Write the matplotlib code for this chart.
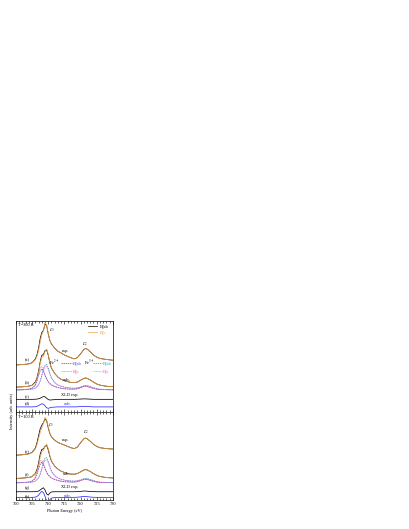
import numpy as np
import matplotlib
matplotlib.use("Agg")
import matplotlib.pyplot as plt

plt.rcParams['font.family'] = ['Liberation Serif', 'DejaVu Serif']
plt.rcParams['mathtext.fontset'] = 'stix'

# photon energy grid (eV)
energy = [700, 702, 704, 705, 706, 706.5, 707, 707.5, 708, 708.5, 709, 709.5, 710, 710.5,
          711, 712, 713, 714, 715, 716, 717, 718, 719, 720, 721, 721.5, 722, 723, 724,
          725, 726, 728, 730]

# ---- T = 300 K ----
a_c = [0, 0.04, 0.11, 0.22, 0.56, 0.94, 1.57, 2.51, 3.33, 3.71, 4.64, 4.38, 3.45, 2.70,
       2.32, 1.84, 1.50, 1.31, 1.09, 0.94, 0.79, 0.67, 0.79, 1.20, 1.69, 1.80, 1.76, 1.46,
       1.09, 0.86, 0.71, 0.60, 0.52]
a_ab = [0, 0.04, 0.12, 0.25, 0.65, 1.10, 1.85, 2.90, 3.55, 3.80, 4.50, 4.30, 3.40, 2.68,
        2.30, 1.83, 1.50, 1.31, 1.09, 0.94, 0.79, 0.67, 0.80, 1.22, 1.70, 1.80, 1.75, 1.45,
        1.08, 0.86, 0.71, 0.60, 0.52]
b_c = [0, 0.04, 0.10, 0.20, 0.50, 0.90, 1.60, 2.60, 3.30, 3.40, 3.90, 4.20, 3.60, 2.70,
       2.10, 1.50, 1.10, 0.85, 0.70, 0.60, 0.52, 0.50, 0.55, 0.75, 0.95, 1.00, 0.98, 0.80,
       0.55, 0.35, 0.22, 0.10, 0.05]
b_ab = [0, 0.04, 0.11, 0.22, 0.58, 1.00, 1.75, 2.80, 3.50, 3.60, 4.00, 4.10, 3.50, 2.65,
        2.08, 1.50, 1.10, 0.85, 0.70, 0.60, 0.52, 0.50, 0.56, 0.76, 0.96, 1.00, 0.97, 0.79,
        0.55, 0.35, 0.22, 0.10, 0.05]
fe2_ab = [0, 0.02, 0.08, 0.18, 0.50, 0.95, 1.60, 2.10, 2.30, 2.10, 1.60, 1.20, 0.90, 0.70,
          0.55, 0.38, 0.26, 0.18, 0.12, 0.10, 0.08, 0.08, 0.12, 0.25, 0.38, 0.40, 0.38, 0.28,
          0.16, 0.08, 0.04, 0.02, 0.01]
fe2_c = [0, 0.02, 0.09, 0.20, 0.60, 1.15, 1.90, 2.40, 2.55, 2.20, 1.60, 1.15, 0.85, 0.65,
         0.52, 0.36, 0.25, 0.17, 0.12, 0.10, 0.08, 0.08, 0.12, 0.24, 0.36, 0.38, 0.36, 0.27,
         0.15, 0.08, 0.04, 0.02, 0.01]
fe3_ab = [0, 0.01, 0.04, 0.08, 0.20, 0.35, 0.60, 1.00, 1.60, 2.30, 2.70, 2.80, 2.40, 1.80,
          1.30, 0.80, 0.55, 0.40, 0.30, 0.24, 0.20, 0.18, 0.22, 0.32, 0.45, 0.50, 0.48, 0.38,
          0.24, 0.14, 0.07, 0.03, 0.01]
fe3_c = [0, 0.01, 0.04, 0.08, 0.18, 0.32, 0.55, 0.92, 1.50, 2.15, 2.55, 2.60, 2.25, 1.70,
         1.25, 0.78, 0.53, 0.39, 0.30, 0.24, 0.20, 0.18, 0.21, 0.30, 0.42, 0.46, 0.44, 0.35,
         0.22, 0.13, 0.06, 0.03, 0.01]
xld_exp = [0, 0, 0, 0, 0.01, 0.03, 0.06, 0.12, 0.22, 0.30, 0.28, 0.12, -0.02, -0.08,
           -0.06, -0.03, -0.01, 0, 0, 0, 0, 0, 0.01, 0.03, 0.05, 0.05, 0.04, 0.02, 0, 0, 0, 0, 0]
xld_calc = [0, 0, 0, 0, 0.02, 0.06, 0.14, 0.26, 0.34, 0.30, 0.12, -0.10, -0.16, -0.10,
            -0.05, -0.02, 0, 0, 0, 0, 0, 0, 0.01, 0.04, 0.06, 0.06, 0.05, 0.02, 0, 0, 0, 0, 0]

# ---- T = 100 K ----
e_c = [0, 0.05, 0.15, 0.30, 0.70, 1.20, 1.90, 2.60, 3.10, 3.60, 4.30, 4.00, 3.20, 2.50,
       2.10, 1.70, 1.45, 1.30, 1.15, 1.00, 0.85, 0.75, 0.90, 1.40, 1.85, 1.95, 1.90, 1.60,
       1.25, 1.00, 0.85, 0.75, 0.70]
e_ab = [0, 0.05, 0.16, 0.33, 0.80, 1.40, 2.20, 3.00, 3.40, 3.70, 4.15, 3.90, 3.10, 2.45,
        2.08, 1.70, 1.45, 1.30, 1.15, 1.00, 0.85, 0.75, 0.92, 1.42, 1.86, 1.95, 1.88, 1.58,
        1.24, 1.00, 0.85, 0.75, 0.70]
f_c = [0, 0.04, 0.10, 0.20, 0.48, 0.85, 1.50, 2.40, 3.05, 3.20, 3.60, 3.90, 3.40, 2.60,
       2.00, 1.40, 1.05, 0.82, 0.68, 0.58, 0.50, 0.48, 0.54, 0.74, 0.95, 1.00, 0.98, 0.80,
       0.55, 0.35, 0.22, 0.10, 0.05]
f_ab = [0, 0.04, 0.11, 0.22, 0.56, 1.00, 1.75, 2.75, 3.30, 3.35, 3.65, 3.75, 3.25, 2.50,
        1.95, 1.40, 1.05, 0.82, 0.68, 0.58, 0.50, 0.48, 0.55, 0.75, 0.96, 1.00, 0.97, 0.79,
        0.55, 0.35, 0.22, 0.10, 0.05]
f_fe2_ab = [0, 0.02, 0.08, 0.18, 0.50, 0.95, 1.60, 2.10, 2.35, 2.10, 1.60, 1.20, 0.90, 0.70,
            0.55, 0.38, 0.26, 0.18, 0.12, 0.10, 0.08, 0.08, 0.12, 0.25, 0.38, 0.40, 0.38, 0.28,
            0.16, 0.08, 0.04, 0.02, 0.01]
f_fe2_c = [0, 0.02, 0.09, 0.20, 0.62, 1.20, 1.95, 2.45, 2.55, 2.20, 1.60, 1.15, 0.85, 0.65,
           0.52, 0.36, 0.25, 0.17, 0.12, 0.10, 0.08, 0.08, 0.12, 0.24, 0.36, 0.38, 0.36, 0.27,
           0.15, 0.08, 0.04, 0.02, 0.01]
f_fe3_ab = [0, 0.01, 0.04, 0.08, 0.20, 0.35, 0.60, 1.00, 1.60, 2.35, 2.80, 2.85, 2.45, 1.85,
            1.32, 0.80, 0.55, 0.40, 0.30, 0.24, 0.20, 0.18, 0.22, 0.32, 0.45, 0.50, 0.48, 0.38,
            0.24, 0.14, 0.07, 0.03, 0.01]
f_fe3_c = [0, 0.01, 0.04, 0.08, 0.18, 0.32, 0.55, 0.92, 1.50, 2.15, 2.55, 2.60, 2.25, 1.70,
           1.25, 0.78, 0.53, 0.39, 0.30, 0.24, 0.20, 0.18, 0.21, 0.30, 0.42, 0.46, 0.44, 0.35,
           0.22, 0.13, 0.06, 0.03, 0.01]
g_xld = [0, 0, 0, 0, 0.01, 0.03, 0.08, 0.20, 0.35, 0.45, 0.20, -0.25, -0.38, -0.15,
         -0.02, 0, 0, 0, 0, 0, 0, 0, 0.01, 0.04, 0.08, 0.08, 0.06, 0.03, 0.01, 0, 0, 0, 0]
h_xld = [0, 0, 0, 0, 0.03, 0.10, 0.25, 0.50, 0.68, 0.55, 0.10, -0.40, -0.50, -0.25,
         -0.08, -0.02, 0, 0, 0, 0, 0, 0, 0.02, 0.06, 0.10, 0.10, 0.08, 0.04, 0.01, 0, 0, 0, 0]

ORANGE = '#f0a040'
BLUE = '#2a2aff'
FS = 3.2

fig = plt.figure(figsize=(4.09, 5.29), dpi=100)
ax1 = fig.add_axes([0.039, 0.2212, 0.237, 0.172])
ax2 = fig.add_axes([0.039, 0.0548, 0.237, 0.1664], sharex=ax1)

def line(ax, y, off, **kw):
    ax.plot(energy, np.array(y) + off, lw=0.55, **kw)

# top panel
line(ax1, a_ab, 5.17, color='k')
line(ax1, a_c, 5.17, color=ORANGE)
line(ax1, fe2_ab, 2.43, color='#4848d8', ls=(0, (2, 1)))
line(ax1, fe2_c, 2.43, color='#ff4c78', ls=(0, (1, 1)))
line(ax1, fe3_ab, 2.43, color='#2aa8a8', ls=(0, (2, 1)))
line(ax1, fe3_c, 2.43, color='#ff50ff', ls=(0, (1, 1)))
line(ax1, b_ab, 2.73, color='k')
line(ax1, b_c, 2.73, color=ORANGE)
line(ax1, xld_exp, 1.39, color='k')
line(ax1, xld_calc, 0.56, color=BLUE)

# bottom panel
line(ax2, e_ab, 5.09, color='k')
line(ax2, e_c, 5.09, color=ORANGE)
line(ax2, f_fe2_ab, 1.96, color='#4848d8', ls=(0, (2, 1)))
line(ax2, f_fe2_c, 1.96, color='#ff4c78', ls=(0, (1, 1)))
line(ax2, f_fe3_ab, 1.96, color='#2aa8a8', ls=(0, (2, 1)))
line(ax2, f_fe3_c, 1.96, color='#ff50ff', ls=(0, (1, 1)))
line(ax2, f_ab, 2.45, color='k')
line(ax2, f_c, 2.45, color=ORANGE)
line(ax2, g_xld, 0.94, color='k')
line(ax2, h_xld, 0.30, color=BLUE)

for ax in (ax1, ax2):
    ax.set_xlim(700, 730)
    ax.set_ylim(0, 10)
    ax.set_yticks([])
    ax.set_xticks(np.arange(700, 731, 5))
    ax.set_xticks(np.arange(700, 731, 1), minor=True)
    ax.tick_params(axis='x', which='both', direction='in', top=True, bottom=True,
                   width=0.4, labelsize=FS, pad=1.5)
    ax.tick_params(axis='x', which='major', length=2)
    ax.tick_params(axis='x', which='minor', length=1.2)
    for s in ax.spines.values():
        s.set_linewidth(0.5)
ax1.tick_params(axis='x', labelbottom=False)

# top panel texts
ax1.text(700.5, 9.55, 'T=300 K', fontsize=FS, va='center')
for lab, y in [('(a)', 5.7), ('(b)', 3.26), ('(c)', 1.69), ('(d)', 0.94)]:
    ax1.text(702.6, y, lab, fontsize=FS, va='center')
ax1.text(715.3, 6.67, 'exp.', fontsize=FS, ha='center', va='center')
ax1.text(715.8, 3.48, 'calc.', fontsize=FS, ha='center', va='center')
ax1.text(716.8, 1.87, 'XLD exp.', fontsize=FS, ha='center', va='center')
ax1.text(716.0, 0.86, 'calc.', fontsize=FS, ha='center', va='center', color=BLUE)
ax1.text(711.1, 9.0, r'$L_3$', fontsize=FS, ha='center', va='center')
ax1.text(721.4, 7.5, r'$L_2$', fontsize=FS, ha='center', va='center')
ax1.plot([722.2, 725.1], [9.44, 9.44], color='k', lw=0.5)
ax1.plot([722.2, 725.1], [8.8, 8.8], color=ORANGE, lw=0.5)
ax1.text(726.0, 9.44, 'E∥ab', fontsize=FS, va='center')
ax1.text(726.0, 8.8, 'E∥c', fontsize=FS, va='center', color=ORANGE)
ax1.text(710.2, 5.36, r'Fe$^{2+}$', fontsize=FS, va='center')
ax1.plot([714.0, 717.2], [5.36, 5.36], color='#4848d8', lw=0.5, ls=(0, (2, 1)))
ax1.plot([714.0, 717.2], [4.5, 4.5], color='#ff4c78', lw=0.5, ls=(0, (1, 1)))
ax1.text(717.5, 5.36, 'E∥ab', fontsize=FS, va='center', color='#4848d8')
ax1.text(717.5, 4.5, 'E∥c', fontsize=FS, va='center', color='#ff4c78')
ax1.text(721.0, 5.36, r'Fe$^{3+}$', fontsize=FS, va='center')
ax1.plot([723.8, 726.6], [5.36, 5.36], color='#2aa8a8', lw=0.5, ls=(0, (2, 1)))
ax1.plot([723.8, 726.6], [4.5, 4.5], color='#ff50ff', lw=0.5, ls=(0, (1, 1)))
ax1.text(726.9, 5.36, 'E∥ab', fontsize=FS, va='center', color='#2aa8a8')
ax1.text(726.9, 4.5, 'E∥c', fontsize=FS, va='center', color='#ff50ff')

# bottom panel texts
ax2.text(700.5, 9.43, 'T=100 K', fontsize=FS, va='center')
for lab, y in [('(e)', 5.47), ('(f)', 2.83), ('(g)', 1.32), ('(h)', 0.4)]:
    ax2.text(702.6, y, lab, fontsize=FS, va='center')
ax2.text(715.3, 6.79, 'exp.', fontsize=FS, ha='center', va='center')
ax2.text(715.8, 3.0, 'calc.', fontsize=FS, ha='center', va='center')
ax2.text(716.8, 1.43, 'XLD exp.', fontsize=FS, ha='center', va='center')
ax2.text(716.0, 0.4, 'calc.', fontsize=FS, ha='center', va='center', color=BLUE)
ax2.text(710.8, 8.5, r'$L_3$', fontsize=FS, ha='center', va='center')
ax2.text(721.8, 7.74, r'$L_2$', fontsize=FS, ha='center', va='center')

ax2.set_xlabel('Photon Energy (eV)', fontsize=FS, labelpad=2)
fig.text(0.029, 0.224, 'Intensity (arb. units)', fontsize=FS, rotation=90,
         ha='center', va='center')

fig.savefig('out.png', dpi=100)
